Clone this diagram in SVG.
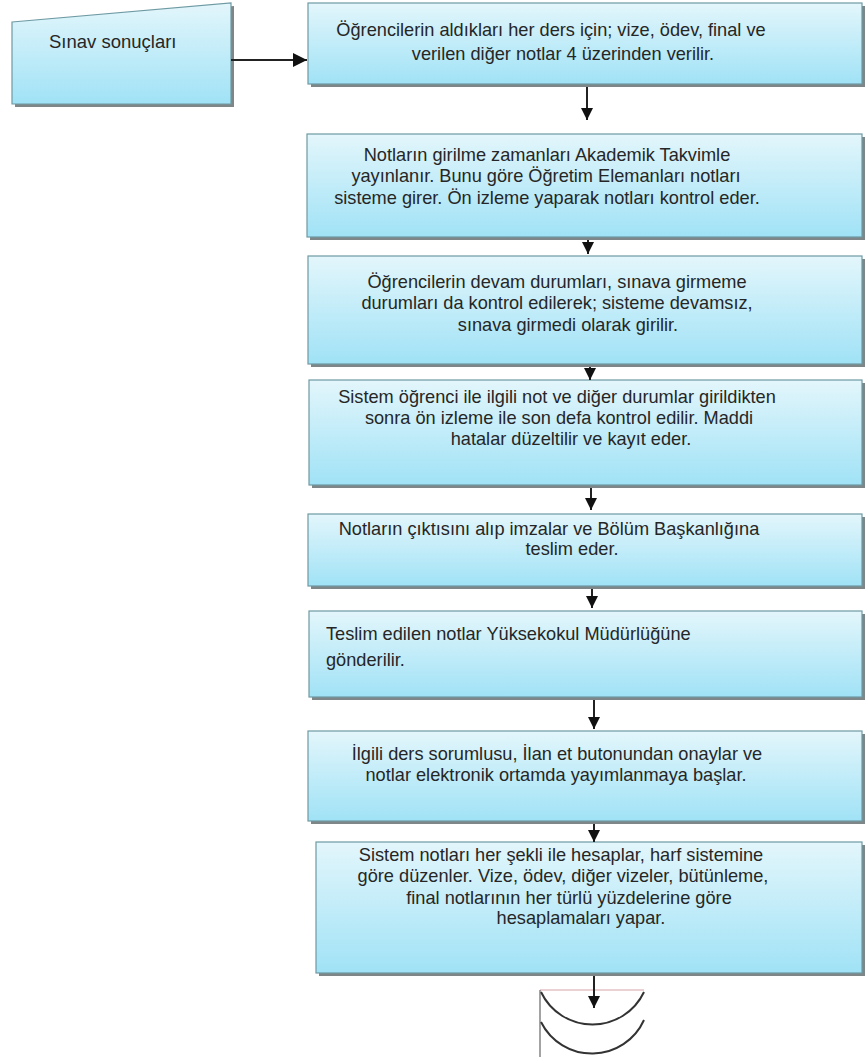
<svg xmlns="http://www.w3.org/2000/svg" width="865" height="1057" viewBox="0 0 865 1057">
  <style>
    .box { fill: url(#cyan); stroke: #6e9aa3; stroke-width: 1.2; }
    .shadow { fill: #7f8688; }
    .t { font-family: "Liberation Sans", Arial, sans-serif; font-size: 18.2px; fill: #262626; }
    .c { text-anchor: middle; }
    .edge { stroke: #222; stroke-width: 2; fill: none; }
  </style>
  <defs>
    <linearGradient id="cyan" x1="0" y1="0" x2="0" y2="1">
      <stop offset="0" stop-color="#e3f6fb"/>
      <stop offset="1" stop-color="#a0e2f6"/>
    </linearGradient>
    <marker id="head" markerUnits="userSpaceOnUse" markerWidth="14" markerHeight="14" refX="12" refY="6" orient="auto">
      <path d="M0,0 L12,6 L0,12 Z" fill="#111"/>
    </marker>
    <marker id="headBig" markerUnits="userSpaceOnUse" markerWidth="16" markerHeight="16" refX="14" refY="7" orient="auto">
      <path d="M0,0 L14,7 L0,14 Z" fill="#111"/>
    </marker>
  </defs>

  <rect width="865" height="1057" fill="#ffffff"/>

  <!-- input: exam results -->
  <g id="sinav-sonuclari">
    <polygon class="shadow" points="15,25 234,6 234,107 15,107"/>
    <polygon class="box" points="12,22 231,3 231,104 12,104"/>
    <text class="t" x="49" y="48" style="font-size:18.5px">Sınav sonuçları</text>
  </g>

  <g id="adim1">
    <rect class="shadow" x="311" y="6" width="554" height="81"/>
    <rect class="box" x="308" y="3" width="554" height="81"/>
    <text class="t c" x="551" y="36">Öğrencilerin aldıkları her ders için; vize, ödev, final ve</text>
    <text class="t c" x="563" y="60">verilen diğer notlar 4 üzerinden verilir.</text>
  </g>

  <g id="adim2">
    <rect class="shadow" x="310" y="137" width="555" height="103"/>
    <rect class="box" x="307" y="134" width="555" height="103"/>
    <text class="t c" x="547" y="161">Notların girilme zamanları Akademik Takvimle</text>
    <text class="t c" x="546" y="182">yayınlanır. Bunu göre Öğretim Elemanları notları</text>
    <text class="t c" x="547" y="204">sisteme girer. Ön izleme yaparak notları kontrol eder.</text>
  </g>

  <g id="adim3">
    <rect class="shadow" x="311" y="259" width="554" height="108"/>
    <rect class="box" x="308" y="256" width="554" height="108"/>
    <text class="t c" x="557" y="288">Öğrencilerin devam durumları, sınava girmeme</text>
    <text class="t c" x="557" y="309">durumları da kontrol edilerek; sisteme devamsız,</text>
    <text class="t c" x="568" y="331">sınava girmedi olarak girilir.</text>
  </g>

  <g id="adim4">
    <rect class="shadow" x="312" y="383" width="553" height="105"/>
    <rect class="box" x="309" y="380" width="553" height="105"/>
    <text class="t c" x="557" y="403">Sistem öğrenci ile ilgili not ve diğer durumlar girildikten</text>
    <text class="t c" x="559" y="424">sonra ön izleme ile son defa kontrol edilir. Maddi</text>
    <text class="t c" x="571" y="445">hatalar düzeltilir ve kayıt eder.</text>
  </g>

  <g id="adim5">
    <rect class="shadow" x="311" y="517" width="554" height="72"/>
    <rect class="box" x="308" y="514" width="554" height="72"/>
    <text class="t c" x="549" y="535">Notların çıktısını alıp imzalar ve Bölüm Başkanlığına</text>
    <text class="t c" x="572" y="555">teslim eder.</text>
  </g>

  <g id="adim6">
    <rect class="shadow" x="312" y="614" width="553" height="86"/>
    <rect class="box" x="309" y="611" width="553" height="86"/>
    <text class="t" x="326" y="640">Teslim edilen notlar Yüksekokul Müdürlüğüne</text>
    <text class="t" x="326" y="666">gönderilir.</text>
  </g>

  <g id="adim7">
    <rect class="shadow" x="311" y="734" width="554" height="90"/>
    <rect class="box" x="308" y="731" width="554" height="90"/>
    <text class="t c" x="557" y="760">İlgili ders sorumlusu, İlan et butonundan onaylar ve</text>
    <text class="t c" x="556" y="781">notlar elektronik ortamda yayımlanmaya başlar.</text>
  </g>

  <g id="adim8">
    <rect class="shadow" x="319" y="845" width="546" height="131"/>
    <rect class="box" x="316" y="842" width="546" height="131"/>
    <text class="t c" x="561" y="861">Sistem notları her şekli ile hesaplar, harf sistemine</text>
    <text class="t c" x="563" y="882">göre düzenler. Vize, ödev, diğer vizeler, bütünleme,</text>
    <text class="t c" x="569" y="904">final notlarının her türlü yüzdelerine göre</text>
    <text class="t c" x="581" y="924">hesaplamaları yapar.</text>
  </g>

  <!-- off-page continuation mark -->
  <g id="devam">
    <line x1="540" y1="990" x2="644" y2="990" stroke="#d9a3a8" stroke-width="1"/>
    <line x1="540" y1="990" x2="540" y2="1057" stroke="#666" stroke-width="1.2"/>
    <path d="M541,992 A57,57 0 0 0 644,992" stroke="#333" stroke-width="2" fill="none"/>
    <path d="M541,1022 A57,57 0 0 0 644,1020" stroke="#333" stroke-width="2" fill="none"/>
  </g>

  <g id="baglantilar">
    <line class="edge" x1="231" y1="60" x2="307" y2="60" stroke="#444" marker-end="url(#headBig)"/>
    <line class="edge" x1="587" y1="87" x2="587" y2="120" marker-end="url(#head)"/>
    <line class="edge" x1="588" y1="240" x2="588" y2="254" marker-end="url(#head)"/>
    <line class="edge" x1="590" y1="367" x2="590" y2="380" marker-end="url(#head)"/>
    <line class="edge" x1="591" y1="488" x2="591" y2="510" marker-end="url(#head)"/>
    <line class="edge" x1="592" y1="589" x2="592" y2="608" marker-end="url(#head)"/>
    <line class="edge" x1="594" y1="700" x2="594" y2="729" marker-end="url(#head)"/>
    <line class="edge" x1="594" y1="824" x2="594" y2="842" marker-end="url(#head)"/>
    <line class="edge" x1="594" y1="976" x2="594" y2="1008" marker-end="url(#head)"/>
  </g>
</svg>
